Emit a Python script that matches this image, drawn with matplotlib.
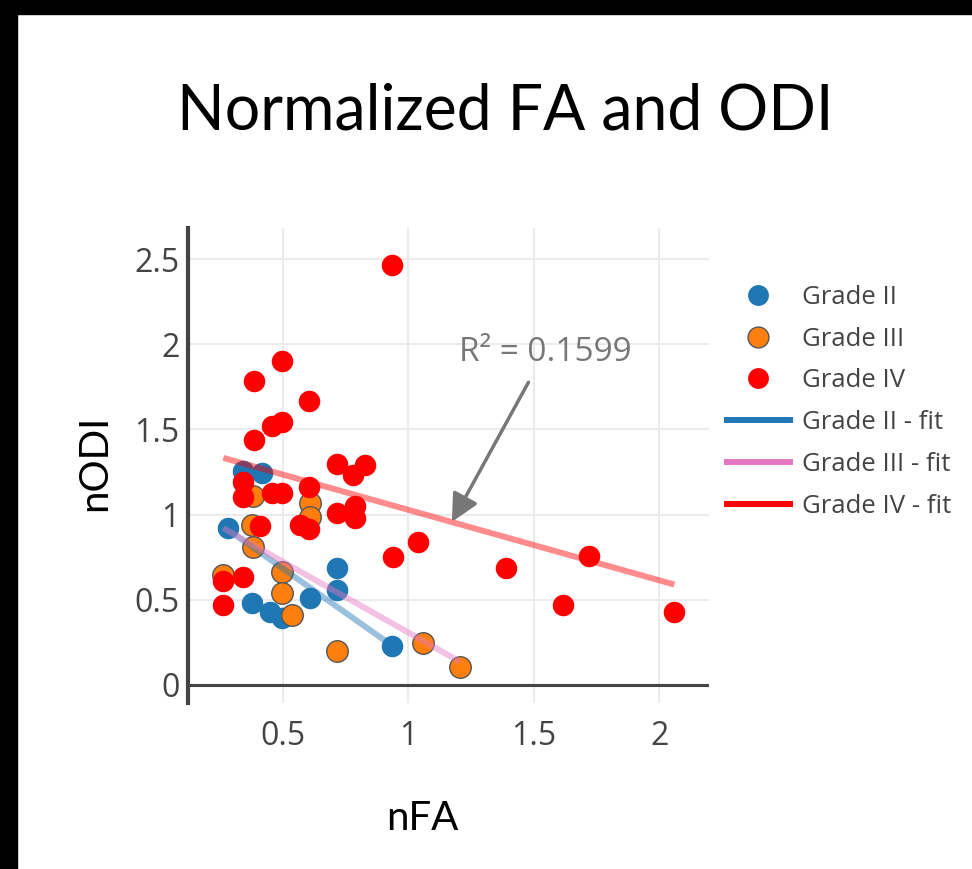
import matplotlib
matplotlib.use("Agg")
import matplotlib.pyplot as plt
from matplotlib.lines import Line2D
from matplotlib.patches import Rectangle
import numpy as np

# values
g2_fa = [0.343, 0.416, 0.283, 0.376, 0.449, 0.496, 0.609, 0.715, 0.715, 0.937]
g2_odi = [1.255, 1.245, 0.920, 0.479, 0.430, 0.391, 0.509, 0.685, 0.558, 0.231]

g3_fa = [0.380, 0.609, 0.609, 0.376, 0.383, 0.496, 0.496, 0.536, 0.715, 0.264, 1.058, 1.206]
g3_odi = [1.110, 1.066, 0.988, 0.939, 0.807, 0.660, 0.542, 0.411, 0.198, 0.646, 0.248, 0.107]

g4_fa = [0.937, 0.496, 0.386, 0.606, 0.456, 0.496, 0.386, 0.715, 0.828, 0.780,
         0.606, 0.715, 0.788, 0.788, 0.606, 0.570, 0.410, 0.343, 0.343, 0.456,
         0.496, 0.941, 1.038, 1.390, 1.720, 1.618, 2.060, 0.264, 0.343, 0.264]
g4_odi = [2.463, 1.903, 1.784, 1.665, 1.520, 1.545, 1.438, 1.297, 1.291, 1.230,
          1.164, 1.008, 1.050, 0.978, 0.915, 0.939, 0.935, 1.190, 1.105, 1.125,
          1.125, 0.749, 0.837, 0.688, 0.757, 0.469, 0.427, 0.610, 0.636, 0.469]

# linear fits (slope, intercept) for grade II, III, IV
fit_slope = [-1.04, -0.832, -0.414]
fit_icept = [1.204, 1.140, 1.442]

grade_names = ["Grade II", "Grade III", "Grade IV"]
colors = ["#1f77b4", "#ff7f0e", "#ff0000"]
fit_colors = ["#1f77b4", "#e377c2", "#ff0000"]

r2_text = "R² = 0.1599"

W, H = 972, 869
fig = plt.figure(figsize=(W / 100, H / 100), dpi=100)
fig.patch.set_facecolor("white")

ax = fig.add_axes([188 / W, 1 - 703 / H, (709 - 188) / W, (703 - 228) / H])

groups = [(g2_fa, g2_odi), (g3_fa, g3_odi), (g4_fa, g4_odi)]
for i, (fa, odi) in enumerate(groups):
    edge = "#555555" if i == 1 else colors[i]
    ax.scatter(fa, odi, s=240, color=colors[i], edgecolors=edge,
               linewidths=1.0 if i == 1 else 0, zorder=3 + i)

# fit lines on top of markers
for i, (fa, odi) in enumerate(groups):
    xs = np.array([min(fa), max(fa)])
    ax.plot(xs, fit_slope[i] * xs + fit_icept[i], color=fit_colors[i],
            lw=4.3, alpha=0.45, solid_capstyle="butt", zorder=7)

ax.set_xlim(0.123, 2.198)
ax.set_ylim(-0.106, 2.682)
ax.set_xticks([0.5, 1, 1.5, 2])
ax.set_xticklabels(["0.5", "1", "1.5", "2"])
ax.set_yticks([0, 0.5, 1, 1.5, 2, 2.5])
ax.set_yticklabels(["0", "0.5", "1", "1.5", "2", "2.5"])
ax.grid(True, color="#ebebeb", lw=1.5)
ax.set_axisbelow(True)
for s in ["top", "right", "bottom"]:
    ax.spines[s].set_visible(False)
ax.spines["left"].set_color("#444444")
ax.spines["left"].set_linewidth(3)
ax.axhline(0, color="#444444", lw=2.2, zorder=2)
ax.tick_params(axis="both", length=0, labelsize=23, labelcolor="#444444")
ax.tick_params(axis="y", pad=6)
ax.tick_params(axis="x", pad=12)
for lab in ax.get_xticklabels() + ax.get_yticklabels():
    lab.set_family("Open Sans")

ax.annotate(r2_text, xy=(1.174, 0.957), xytext=(1.545, 1.954),
            ha="center", va="center", fontsize=24, color="#777777",
            family="Open Sans",
            arrowprops=dict(arrowstyle="-|>,head_length=0.7,head_width=0.35",
                            color="#777777", lw=2.5, shrinkA=9, shrinkB=0),
            zorder=10)

handles = []
for i in range(3):
    handles.append(Line2D([], [], ls="none", marker="o", ms=15,
                          color=colors[i],
                          markeredgecolor="#555555" if i == 1 else colors[i],
                          markeredgewidth=1.0 if i == 1 else 0))
for i in range(3):
    handles.append(Line2D([], [], color=fit_colors[i], lw=4.3))
labels = grade_names + [g + " - fit" for g in grade_names]
leg = fig.legend(handles, labels, loc="upper left",
                 bbox_to_anchor=(727 / W, 1 - 285 / H),
                 bbox_transform=fig.transFigure, frameon=False,
                 borderpad=0, borderaxespad=0, handlelength=2.45,
                 handletextpad=0.45, labelspacing=0.65,
                 prop={"family": "Open Sans", "size": 18.5})
for t in leg.get_texts():
    t.set_color("#444444")

fig.text(505 / W, 1 - 112 / H, "Normalized FA and ODI", ha="center",
         va="center", fontsize=45, family="Lato", color="black")
fig.text(422 / W, 1 - 818 / H, "nFA", ha="center", va="center",
         fontsize=29, family="Lato", color="black")
fig.text(95 / W, 1 - 463 / H, "nODI", ha="center", va="center",
         rotation=90, fontsize=29, family="Lato", color="black")

# black frame remnants at top and left of the screenshot
fig.add_artist(Rectangle((0, 1 - 14 / H), 1, 14 / H, transform=fig.transFigure,
                         color="black", zorder=20))
fig.add_artist(Rectangle((0, 0), 17 / W, 1, transform=fig.transFigure,
                         color="black", zorder=20))

fig.savefig("out.png", dpi=100)
